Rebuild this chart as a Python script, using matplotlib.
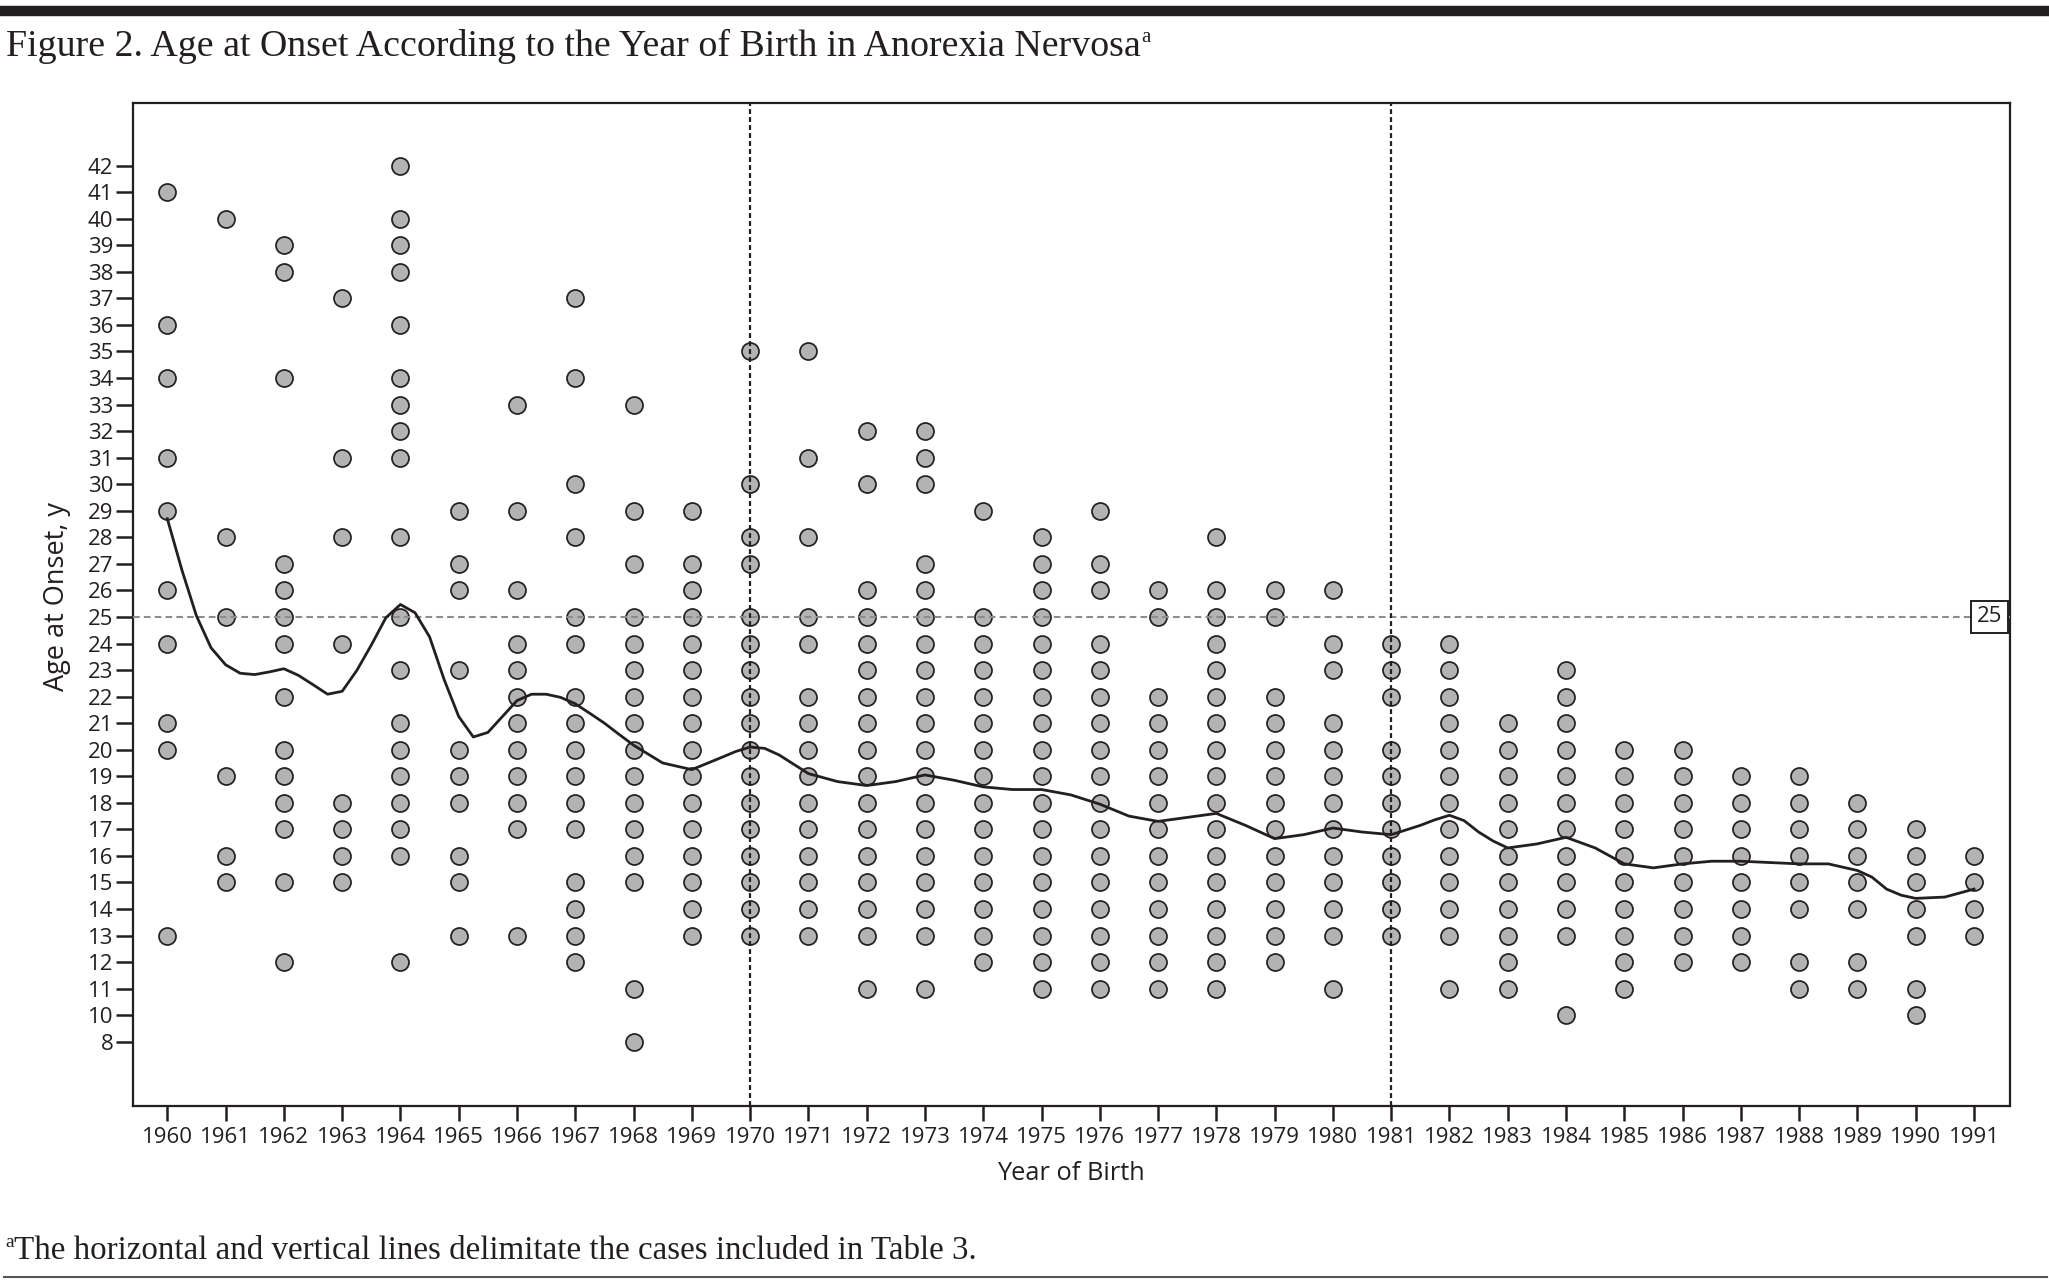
import matplotlib
matplotlib.use('Agg')
import matplotlib.pyplot as plt
from matplotlib.lines import Line2D

# ---- data ----
years = list(range(1960, 1992))
ages = [
    [41, 36, 34, 31, 29, 26, 24, 21, 20, 13],                                   # 1960
    [40, 28, 25, 19, 16, 15],                                                   # 1961
    [39, 38, 34, 27, 26, 25, 24, 22, 20, 19, 18, 17, 15, 12],                   # 1962
    [37, 31, 28, 24, 18, 17, 16, 15],                                           # 1963
    [42, 40, 39, 38, 36, 34, 33, 32, 31, 28, 25, 23, 21, 20, 19, 18, 17, 16, 12],  # 1964
    [29, 27, 26, 23, 20, 19, 18, 16, 15, 13],                                   # 1965
    [33, 29, 26, 24, 23, 22, 21, 20, 19, 18, 17, 13],                           # 1966
    [37, 34, 30, 28, 25, 24, 22, 21, 20, 19, 18, 17, 15, 14, 13, 12],           # 1967
    [33, 29, 27, 25, 24, 23, 22, 21, 20, 19, 18, 17, 16, 15, 11, 8],            # 1968
    [29, 27, 26, 25, 24, 23, 22, 21, 20, 19, 18, 17, 16, 15, 14, 13],           # 1969
    [35, 30, 28, 27, 25, 24, 23, 22, 21, 20, 19, 18, 17, 16, 15, 14, 13],       # 1970
    [35, 31, 28, 25, 24, 22, 21, 20, 19, 18, 17, 16, 15, 14, 13],               # 1971
    [32, 30, 26, 25, 24, 23, 22, 21, 20, 19, 18, 17, 16, 15, 14, 13, 11],       # 1972
    [32, 31, 30, 27, 26, 25, 24, 23, 22, 21, 20, 19, 18, 17, 16, 15, 14, 13, 11],  # 1973
    [29, 25, 24, 23, 22, 21, 20, 19, 18, 17, 16, 15, 14, 13, 12],               # 1974
    [28, 27, 26, 25, 24, 23, 22, 21, 20, 19, 18, 17, 16, 15, 14, 13, 12, 11],   # 1975
    [29, 27, 26, 24, 23, 22, 21, 20, 19, 18, 17, 16, 15, 14, 13, 12, 11],       # 1976
    [26, 25, 22, 21, 20, 19, 18, 17, 16, 15, 14, 13, 12, 11],                   # 1977
    [28, 26, 25, 24, 23, 22, 21, 20, 19, 18, 17, 16, 15, 14, 13, 12, 11],       # 1978
    [26, 25, 22, 21, 20, 19, 18, 17, 16, 15, 14, 13, 12],                       # 1979
    [26, 24, 23, 21, 20, 19, 18, 17, 16, 15, 14, 13, 11],                       # 1980
    [24, 23, 22, 20, 19, 18, 17, 16, 15, 14, 13],                               # 1981
    [24, 23, 22, 21, 20, 19, 18, 17, 16, 15, 14, 13, 11],                       # 1982
    [21, 20, 19, 18, 17, 16, 15, 14, 13, 12, 11],                               # 1983
    [23, 22, 21, 20, 19, 18, 17, 16, 15, 14, 13, 10],                           # 1984
    [20, 19, 18, 17, 16, 15, 14, 13, 12, 11],                                   # 1985
    [20, 19, 18, 17, 16, 15, 14, 13, 12],                                       # 1986
    [19, 18, 17, 16, 15, 14, 13, 12],                                           # 1987
    [19, 18, 17, 16, 15, 14, 12, 11],                                           # 1988
    [18, 17, 16, 15, 14, 12, 11],                                               # 1989
    [17, 16, 15, 14, 13, 11, 10],                                               # 1990
    [16, 15, 14, 13],                                                           # 1991
]

# smoothed curve (age)
curve_x = [1960.0, 1960.25, 1960.5, 1960.75, 1961.0, 1961.25, 1961.5, 1961.75,
           1962.0, 1962.25, 1962.5, 1962.75, 1963.0, 1963.25, 1963.5, 1963.75,
           1964.0, 1964.25, 1964.5, 1964.75, 1965.0, 1965.25, 1965.5, 1965.75,
           1966.0, 1966.25, 1966.5, 1966.75, 1967.0, 1967.25, 1967.5, 1967.75,
           1968.0, 1968.5, 1969.0, 1969.5, 1969.75, 1970.0, 1970.25, 1970.5,
           1970.75, 1971.0, 1971.5, 1972.0,
           1972.5, 1973.0, 1973.5, 1974.0, 1974.5, 1975.0, 1975.5, 1976.0, 1976.5,
           1977.0, 1977.5, 1978.0, 1978.5, 1979.0, 1979.5, 1980.0, 1980.5, 1981.0,
           1981.5, 1981.75, 1982.0, 1982.25, 1982.5, 1982.75, 1983.0, 1983.5,
           1984.0, 1984.5, 1985.0, 1985.5,
           1986.0, 1986.5, 1987.0, 1987.5, 1988.0, 1988.5, 1989.0, 1989.25,
           1989.5, 1989.75, 1990.0, 1990.5, 1991.0]
curve_age = [28.7, 26.77, 25.04, 23.84, 23.2, 22.88, 22.83, 22.93,
             23.05, 22.8, 22.45, 22.09, 22.2, 22.98, 23.94, 24.97,
             25.47, 25.16, 24.25, 22.64, 21.25, 20.48, 20.65, 21.25,
             21.85, 22.09, 22.09, 21.97, 21.73, 21.37, 21.0, 20.58,
             20.17, 19.5, 19.25, 19.7, 19.93, 20.1, 20.05, 19.8,
             19.45, 19.1, 18.8, 18.65,
             18.8, 19.05, 18.85, 18.6, 18.5, 18.5, 18.3, 17.95, 17.5,
             17.3, 17.45, 17.6, 17.15, 16.65, 16.8, 17.05, 16.9, 16.8,
             17.15, 17.36, 17.53, 17.33, 16.9, 16.56, 16.3, 16.45,
             16.7, 16.3, 15.7, 15.55,
             15.7, 15.8, 15.8, 15.75, 15.7, 15.7, 15.45, 15.2,
             14.75, 14.52, 14.4, 14.45, 14.75]

age_levels = [8] + list(range(10, 43))   # y axis is ordinal (no 9)
cut_years = [1970, 1981]
cut_age = 25

level = {a: i for i, a in enumerate(age_levels)}

def ypos(a):
    return a - 9  # continuous position for ages >= 10

ink = '#231f20'
plt.rcParams['font.family'] = ['Open Sans', 'DejaVu Sans']

fig = plt.figure(figsize=(20.49, 12.81), dpi=100)
ax = fig.add_axes([132.7 / 2049, 1 - 1106 / 1281, (2010 - 132.7) / 2049, (1106 - 102.7) / 1281])

xlo, xhi = 1959.406, 1991.618
ax.set_xlim(xlo, xhi)
ax.set_ylim(-2.42, 35.37)

xs, ys = [], []
for yr, lst in zip(years, ages):
    for a in lst:
        xs.append(yr)
        ys.append(level[a])
ax.scatter(xs, ys, s=150, facecolor='#b3b3b3', edgecolor=ink, linewidth=1.25, zorder=2)

ax.axhline(level[cut_age], color='#8c8c8c', lw=1.5, linestyle=(0, (3.2, 2)), zorder=3)
for cy in cut_years:
    ax.axvline(cy, color=ink, lw=1.6, linestyle=(0, (2.2, 1.4)), zorder=3)

ax.plot(curve_x, [ypos(a) for a in curve_age], color=ink, lw=2.0, zorder=4,
        solid_joinstyle='round')

ax.text(xhi - 0.14, level[cut_age], str(cut_age), ha='right', va='center',
        fontsize=16, color=ink, zorder=6,
        bbox=dict(boxstyle='square,pad=0.26', fc='white', ec=ink, lw=1.4))

ax.set_xticks(years)
ax.set_xticklabels([str(y) for y in years])
ax.set_yticks(range(len(age_levels)))
ax.set_yticklabels([str(a) for a in age_levels])
ax.tick_params(axis='y', direction='out', length=12.5, width=1.8, pad=1.5,
               labelsize=16, colors=ink)
ax.tick_params(axis='x', direction='out', length=11, width=1.8, pad=4,
               labelsize=16, colors=ink)
for sp in ax.spines.values():
    sp.set_linewidth(1.6)
    sp.set_color(ink)

fig.text(57 / 2049, 1 - 596 / 1281, 'Age at Onset, y', rotation=90, ha='center',
         va='center', fontsize=19.5, color=ink)
fig.text(1071 / 2049, 1 - 1173.5 / 1281, 'Year of Birth', ha='center', va='center',
         fontsize=18.3, color=ink)

# title and footnote with superscript marks
serif = ['Liberation Serif', 'DejaVu Serif']
renderer = fig.canvas.get_renderer()
t = fig.text(6 / 2049, 1 - 56 / 1281, 'Figure 2. Age at Onset According to the Year of Birth in Anorexia Nervosa',
             family=serif, fontsize=27.3, color=ink, va='baseline', ha='left')
bb = t.get_window_extent(renderer)
fig.text((bb.x1 + 1) / 2049, 1 - 42 / 1281, 'a', family=serif, fontsize=15,
         color=ink, va='baseline', ha='left')

fa = fig.text(5 / 2049, 1 - 1247 / 1281, 'a', family=serif, fontsize=14,
              color=ink, va='baseline', ha='left')
bb2 = fa.get_window_extent(renderer)
fig.text((bb2.x1 + 0.5) / 2049, 1 - 1259 / 1281,
         'The horizontal and vertical lines delimitate the cases included in Table 3.',
         family=serif, fontsize=23.8, color=ink, va='baseline', ha='left')

fig.add_artist(Line2D([4 / 2049, 2047 / 2049], [1 - 10.8 / 1281] * 2,
                      transform=fig.transFigure, color=ink, lw=7.5))
fig.add_artist(Line2D([4 / 2049, 2047 / 2049], [1 - 1276.7 / 1281] * 2,
                      transform=fig.transFigure, color='#555555', lw=1.5))

fig.savefig('out.png', dpi=100)
